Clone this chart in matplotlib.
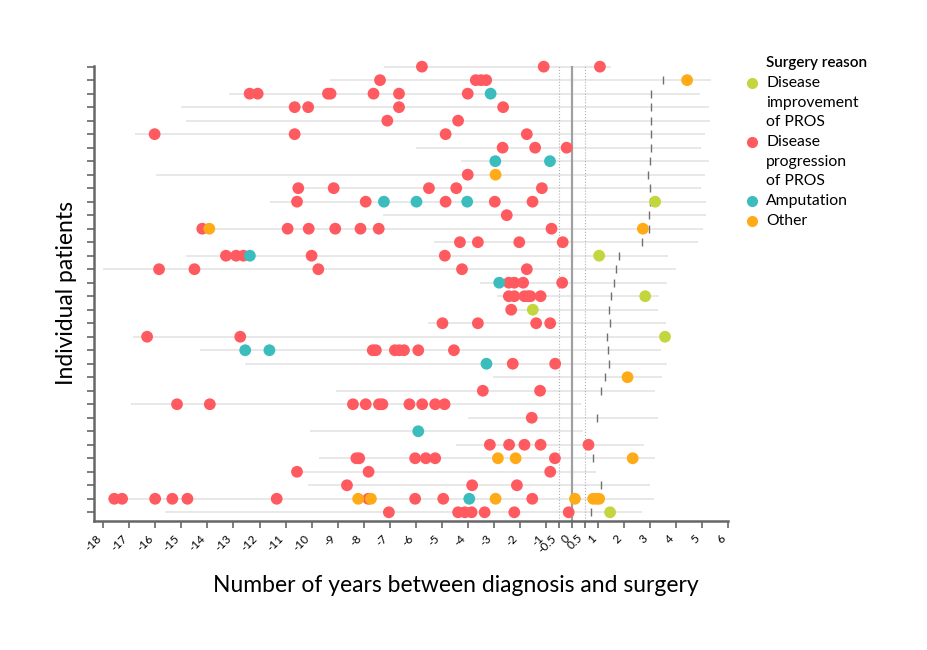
import matplotlib.pyplot as plt
from matplotlib.lines import Line2D
import numpy as np

plt.rcParams['font.family'] = ['Lato', 'DejaVu Sans']

# one entry per patient, top to bottom
line_start = [-7.22, -9.29, -13.17, -15.0, -14.84, -16.78, -5.99, -4.26, -15.99, -10.51,
              -11.58, -7.27, -14.2, -5.31, -14.84, -18.0, -3.53, -2.89, -2.33, -5.52,
              -16.85, -14.27, -12.57, -3.02, -9.06, -16.92, -3.98, -10.05, -4.45, -9.72,
              -10.57, -10.15, -17.84, -15.63]
line_end = [1.49, 5.36, 4.92, 5.27, 5.3, 5.1, 4.98, 5.27, 5.1, 4.98,
            5.15, 5.17, 5.03, 4.85, 3.7, 4.02, 3.64, 3.35, 3.3, 3.6,
            3.6, 3.41, 3.64, 3.48, 3.19, 0.35, 3.32, 0.44, 2.76, 3.19,
            0.91, 3.0, 3.15, 2.68]
# short vertical marks (nan = none)
marks = [np.nan, 3.49, 3.06, 3.06, 3.06, 3.06, 3.06, 3.0, 2.93, 3.0,
         3.0, 2.98, 2.98, 2.68, 1.8, 1.68, 1.61, 1.52, 1.42, 1.45,
         1.37, 1.40, 1.42, 1.29, 1.13, np.nan, 0.97, np.nan, np.nan, 0.83,
         np.nan, 1.14, np.nan, 0.72]

progression = [
    [-5.76, -1.08, 1.08],
    [-7.37, -3.69, -3.49, -3.29],
    [-12.38, -12.07, -9.37, -9.27, -7.62, -6.64, -4.0],
    [-10.65, -10.13, -6.64, -2.64],
    [-7.09, -4.37],
    [-16.03, -10.65, -4.85, -1.73],
    [-2.66, -1.41, -0.2],
    [],
    [-4.0],
    [-10.51, -9.15, -5.49, -4.44, -1.15],
    [-10.56, -7.92, -4.85, -2.96, -1.51],
    [-2.5],
    [-14.2, -10.92, -10.11, -9.09, -8.12, -7.42, -0.78],
    [-4.3, -3.61, -2.02, -0.35],
    [-13.29, -12.9, -12.62, -10.0, -4.88],
    [-15.86, -14.5, -9.74, -4.22, -1.73],
    [-2.42, -2.21, -1.87, -0.37],
    [-2.42, -2.21, -1.82, -1.68, -1.59, -1.2],
    [-2.33],
    [-4.97, -3.61, -1.37, -0.83],
    [-16.32, -12.74],
    [-7.65, -7.53, -6.8, -6.63, -6.45, -5.9, -4.53],
    [-2.27, -0.64],
    [],
    [-3.42, -1.22],
    [-15.17, -13.91, -8.41, -7.92, -7.41, -7.28, -6.24, -5.75, -5.25, -4.89],
    [-1.54],
    [],
    [-3.15, -2.41, -1.82, -1.2, 0.64],
    [-8.28, -8.17, -6.02, -5.61, -5.25, -0.65],
    [-10.56, -7.81, -0.83],
    [-8.64, -3.83, -2.11],
    [-17.58, -17.28, -16.01, -15.35, -14.77, -11.34, -7.82, -6.02, -4.94, -1.52],
    [-7.03, -4.37, -4.11, -3.85, -3.35, -2.21, -0.12],
]
amputation = {2: [-3.12], 7: [-2.94, -0.84], 10: [-7.22, -5.97, -4.02], 14: [-12.37],
              16: [-2.79], 21: [-12.55, -11.62], 22: [-3.28], 27: [-5.9], 32: [-3.94]}
other = {1: [4.43], 8: [-2.93], 12: [-13.93, 2.73], 23: [2.14],
         29: [-2.84, -2.16, 2.34], 32: [-8.21, -7.72, -2.93, 0.12, 0.82, 0.95, 1.05]}
improvement = {10: [3.2], 14: [1.05], 17: [2.82], 18: [-1.5], 20: [3.58], 33: [1.47]}

c_imp = '#c3d63d'
c_prog = '#ff5a5f'
c_amp = '#3bbdbe'
c_oth = '#ffaa17'

xticks = list(range(-18, 0)) + [-0.5, 0, 0.5] + list(range(1, 7))
xlabels = ['-0.5' if t == -0.5 else '0.5' if t == 0.5 else str(t) for t in xticks]

fig = plt.figure(figsize=(9.27, 6.5), dpi=100)
ax = fig.add_axes([0.1014, 0.199, 0.6839, 0.6995])

n = len(line_start)
rows = np.arange(n)

ax.hlines(rows, line_start, line_end, color='#e6e6e6', lw=1.3, zorder=1)
ax.axvline(0, color='#a0a0a0', lw=1.6, zorder=2)
ax.axvline(-0.5, color='#b0b0b0', lw=0.8, ls=':', zorder=2)
ax.axvline(0.5, color='#b0b0b0', lw=0.8, ls=':', zorder=2)
ax.vlines(marks, rows - 0.3, rows + 0.3, color='#707070', lw=1.0, zorder=2)

def pts(d):
    xs, ys = [], []
    items = enumerate(d) if isinstance(d, list) else d.items()
    for r, vals in items:
        for v in vals:
            xs.append(v)
            ys.append(r)
    return xs, ys

for data, col in [(progression, c_prog), (amputation, c_amp), (other, c_oth), (improvement, c_imp)]:
    xs, ys = pts(data)
    ax.scatter(xs, ys, s=72, color=col, edgecolors='none', zorder=3, clip_on=False)

ax.set_xlim(-18.36, 6)
ax.set_ylim(n - 1 + 0.62, -0.05)
ax.set_yticks(rows)
ax.set_yticklabels([])
ax.set_xticks(xticks)
ax.set_xticklabels(xlabels, rotation=45, ha='right', fontsize=8.5)
for s in ['top', 'right']:
    ax.spines[s].set_visible(False)
for s in ['left', 'bottom']:
    ax.spines[s].set_color('#666666')
    ax.spines[s].set_linewidth(1.8)
ax.tick_params(axis='both', color='#666666', width=1.2, length=5)

ax.set_xlabel('Number of years between diagnosis and surgery', fontsize=16.5, labelpad=12)
ax.xaxis.set_label_coords(0.571, -0.12)
ax.set_ylabel('Individual patients', fontsize=16.5, labelpad=4)

# legend, drawn by hand so the dot sits on the first line
W, H = 927, 650
fig.text(766 / W, 1 - 63 / H, 'Surgery reason', fontsize=11, fontweight='semibold', va='center')
legend_items = [(c_imp, ['Disease', 'improvement', 'of PROS']),
                (c_prog, ['Disease', 'progression', 'of PROS']),
                (c_amp, ['Amputation']),
                (c_oth, ['Other'])]
y = 83
for col, lines in legend_items:
    fig.add_artist(Line2D([752 / W], [1 - y / H], marker='o', color=col, markersize=7,
                          linestyle='none', transform=fig.transFigure))
    for ln in lines:
        fig.text(766 / W, 1 - y / H, ln, fontsize=11.3, va='center')
        y += 19.7

fig.savefig('out.png', dpi=100)
